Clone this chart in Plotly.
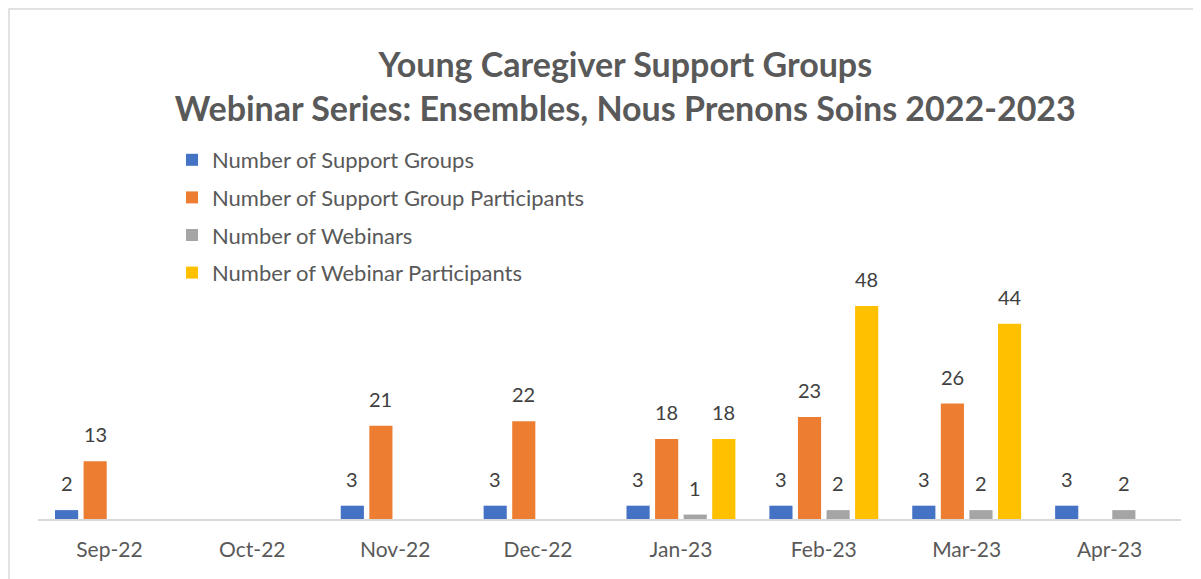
import plotly.graph_objects as go

months = ["Sep-22", "Oct-22", "Nov-22", "Dec-22", "Jan-23", "Feb-23", "Mar-23", "Apr-23"]
support_groups = [2, None, 3, 3, 3, 3, 3, 3]
support_participants = [13, None, 21, 22, 18, 23, 26, None]
webinars = [None, None, None, None, 1, 2, 2, 2]
webinar_participants = [None, None, None, None, 18, 48, 44, None]

series = [
    ("Number of Support Groups", support_groups, "#4472C4"),
    ("Number of Support Group Participants", support_participants, "#ED7D31"),
    ("Number of Webinars", webinars, "#A5A5A5"),
    ("Number of Webinar Participants", webinar_participants, "#FFC000"),
]

W, H = 1201, 579
L, R, T, B = 30, 28, 270, 68
plot_w = W - L - R
plot_h = H - T - B
FONT = "Lato, Open Sans, sans-serif"
BARGAP = 0.2

fig = go.Figure()
annotations = []
n = len(series)
slot = (1 - BARGAP) / n
for i, (name, vals, color) in enumerate(series):
    fig.add_trace(go.Bar(
        x=months, y=vals, name=name,
        marker=dict(color=color, line=dict(width=0)),
        legendgroup=f"g{i}",
    ))
    for j, v in enumerate(vals):
        if v is None:
            continue
        annotations.append(dict(
            x=j + (i - (n - 1) / 2) * slot, y=v, xref="x", yref="y",
            text=str(v), showarrow=False, yanchor="bottom", yshift=13,
            font=dict(family=FONT, size=20, color="#404040"),
        ))

def px_x(p):
    return (p - L) / plot_w

def px_y(p):
    return (H - B - p) / plot_h

fig.update_layout(
    width=W, height=H,
    margin=dict(l=L, r=R, t=T, b=B),
    paper_bgcolor="white", plot_bgcolor="white",
    barmode="group", bargap=BARGAP, bargroupgap=0.19,
    title=dict(
        text="Young Caregiver Support Groups<br>Webinar Series: Ensembles, Nous Prenons Soins 2022-2023",
        x=0.514, xanchor="center", y=1 - 69 / H, yanchor="top",
        font=dict(family=FONT, size=34, color="#595959", weight="bold"),
    ),
    legend=dict(
        orientation="v", x=px_x(164), xanchor="left", y=px_y(131), yanchor="top",
        font=dict(family=FONT, size=22, color="#595959"),
        tracegroupgap=6, bgcolor="rgba(0,0,0,0)",
    ),
    xaxis=dict(
        showline=True, linecolor="#D9D9D9", linewidth=1.5,
        ticks="", showgrid=False,
        tickfont=dict(family=FONT, size=21, color="#595959"),
        ticklabelstandoff=11,
    ),
    yaxis=dict(range=[0, 54.3], visible=False, showgrid=False, zeroline=False),
    annotations=annotations,
    shapes=[dict(
        type="rect", xref="paper", yref="paper",
        x0=px_x(1), x1=px_x(1210), y0=px_y(1), y1=px_y(600),
        line=dict(color="#D9D9D9", width=1.5), fillcolor="rgba(0,0,0,0)", layer="below",
    )],
    showlegend=True,
)

fig.write_html("out.html")
